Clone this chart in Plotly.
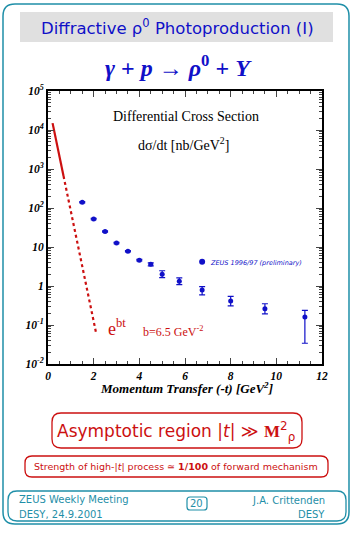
import plotly.graph_objects as go

# ---------------- data ----------------
t_vals = [1.5, 2.0, 2.5, 3.0, 3.5, 4.0, 4.5, 5.0, 5.75, 6.75, 8.0, 9.5, 11.25]
dsdt = [140, 52, 25, 12.6, 7.8, 4.6, 3.6, 2.0, 1.32, 0.79, 0.41, 0.26, 0.16]
err_up = [5, 2, 1.0, 0.5, 0.3, 0.2, 0.3, 0.46, 0.29, 0.17, 0.13, 0.091, 0.077]
err_down = [5, 2, 1.0, 0.5, 0.3, 0.2, 0.3, 0.37, 0.23, 0.20, 0.10, 0.067, 0.126]

# e^{bt} line (b = 6.5 GeV^-2)
line_solid_t = [0.2, 0.68]
line_solid_y = [15000, 660]
line_dot_t = [0.68, 2.1]
line_dot_y = [660, 0.065]

y_tickvals = [1e-2, 1e-1, 1, 10, 100, 1e3, 1e4, 1e5]
y_ticktext = ["10<sup>-2</sup>", "10<sup>-1</sup>", "1", "10", "10<sup>2</sup>",
              "10<sup>3</sup>", "10<sup>4</sup>", "10<sup>5</sup>"]
x_tickvals = [0, 2, 4, 6, 8, 10, 12]

# ---------------- geometry helpers ----------------
W, H = 363, 535
L, R, T, B = 48, 322, 91, 364


def fx(px):
    return (px - L) / (R - L)


def fy(py):
    return (B - py) / (B - T)


def rrect(x0, y0, x1, y1, r):
    def P(x, y):
        return f"{fx(x):.5f},{fy(y):.5f}"
    s = f"M {P(x0 + r, y0)} L {P(x1 - r, y0)} Q {P(x1, y0)} {P(x1, y0 + r)} "
    s += f"L {P(x1, y1 - r)} Q {P(x1, y1)} {P(x1 - r, y1)} "
    s += f"L {P(x0 + r, y1)} Q {P(x0, y1)} {P(x0, y1 - r)} "
    s += f"L {P(x0, y0 + r)} Q {P(x0, y0)} {P(x0 + r, y0)} Z"
    return s


TEAL = "#1f8fa8"
RED = "#cc1010"
BLUE = "#1010c8"
SERIF = "Liberation Serif"
SANS = "DejaVu Sans"

fig = go.Figure()

fig.add_trace(go.Scatter(
    x=line_solid_t, y=line_solid_y, mode="lines",
    line=dict(color=RED, width=2.2), showlegend=False, hoverinfo="skip"))
fig.add_trace(go.Scatter(
    x=line_dot_t, y=line_dot_y, mode="lines",
    line=dict(color=RED, width=2.2, dash="dot"), showlegend=False, hoverinfo="skip"))

fig.add_trace(go.Scatter(
    x=t_vals, y=dsdt, mode="markers",
    marker=dict(color=BLUE, size=5),
    error_y=dict(type="data", symmetric=False, array=err_up, arrayminus=err_down,
                 color=BLUE, thickness=1.2, width=3),
    showlegend=False))

# legend marker
fig.add_trace(go.Scatter(
    x=[6.75], y=[4.2], mode="markers", marker=dict(color=BLUE, size=6),
    showlegend=False, hoverinfo="skip"))

shapes = [
    dict(type="path", path=rrect(3, 4, 349, 524, 12), xref="paper", yref="paper",
         line=dict(color=TEAL, width=1.5), layer="below"),
    dict(type="rect", x0=fx(20), x1=fx(333), y0=fy(12), y1=fy(42), xref="paper", yref="paper",
         fillcolor="#e0e0e0", line=dict(width=0), layer="below"),
    dict(type="path", path=rrect(52, 413, 302, 448, 9), xref="paper", yref="paper",
         line=dict(color=RED, width=1.3)),
    dict(type="path", path=rrect(25, 456, 328, 477, 7), xref="paper", yref="paper",
         line=dict(color=RED, width=1.3)),
    dict(type="path", path=rrect(8, 491, 346, 521, 9), xref="paper", yref="paper",
         line=dict(color=TEAL, width=1.3)),
    dict(type="path", path=rrect(187, 497, 207, 510, 3), xref="paper", yref="paper",
         line=dict(color=TEAL, width=1.2)),
]

annotations = []


def ann(text, x, y, size, color, family, xanchor="center", **kw):
    annotations.append(dict(text=text, x=fx(x), y=fy(y), xref="paper", yref="paper",
                            xanchor=xanchor, yanchor="middle", showarrow=False,
                            font=dict(size=size, color=color, family=family, **kw)))


ann("Diffractive ρ<sup>0</sup> Photoproduction (I)", 177, 27, 16.5, BLUE, SANS)
ann("<i>γ</i> + <i>p</i> → <i>ρ</i><sup>0</sup> + <i>Y</i>", 178, 66, 24, BLUE, SERIF, weight="bold")
ann("Differential Cross Section", 186, 116, 14, "black", SERIF)
ann("dσ/dt [nb/GeV<sup>2</sup>]", 183, 144, 14, "black", SERIF)
ann("ZEUS 1996/97 (preliminary)", 208, 263, 6.5, BLUE, SANS, xanchor="left", style="italic")
ann("e<sup>bt</sup>", 106, 327, 18, RED, SERIF, xanchor="left")
ann("b=6.5 GeV<sup>-2</sup>", 141, 331, 12, RED, SERIF, xanchor="left")
ann("Momentum Transfer (-t) [GeV<sup>2</sup>]", 186, 388, 13, "black", SERIF,
    weight="bold", style="italic")
ann("Asymptotic region |<i>t</i>| ≫ <b><span style='font-family:Liberation Serif'>M</span></b><sup>2</sup><sub>ρ</sub>",
    176, 431, 17, RED, SANS)
ann("Strength of high-|<i>t</i>| process ≃ <b>1/100</b> of forward mechanism", 176, 466, 9.5, RED, SANS)
ann("ZEUS Weekly Meeting", 17, 499, 10, TEAL, SANS, xanchor="left")
ann("DESY, 24.9.2001", 17, 514, 10, TEAL, SANS, xanchor="left")
ann("20", 197, 503.5, 10, TEAL, SANS)
ann("J.A. Crittenden", 327, 500, 10, TEAL, SANS, xanchor="right")
ann("DESY", 327, 514, 10, TEAL, SANS, xanchor="right")

tickfont = dict(family=SERIF, size=11.5, color="black", weight="bold", style="italic")

fig.update_layout(
    width=W, height=H,
    margin=dict(l=L, r=W - R, t=T, b=H - B),
    paper_bgcolor="white", plot_bgcolor="white",
    shapes=shapes, annotations=annotations,
    xaxis=dict(range=[0, 12], tickvals=x_tickvals, ticks="inside", ticklen=6, tickwidth=1.3,
               showline=True, linewidth=2, linecolor="black", mirror="allticks",
               showgrid=False, zeroline=False, tickfont=tickfont,
               minor=dict(dtick=0.5, ticks="inside", ticklen=3, tickwidth=1, showgrid=False)),
    yaxis=dict(type="log", range=[-2, 5], tickvals=y_tickvals, ticktext=y_ticktext,
               ticks="inside", ticklen=6, tickwidth=1.3,
               showline=True, linewidth=2, linecolor="black", mirror="allticks",
               showgrid=False, zeroline=False, tickfont=tickfont,
               minor=dict(dtick="D1", ticks="inside", ticklen=3, tickwidth=1, showgrid=False)),
    showlegend=False,
)

fig.write_html("out.html", config={"displayModeBar": False},
               post_script="document.body.style.margin='0';document.body.style.overflow='hidden';")
